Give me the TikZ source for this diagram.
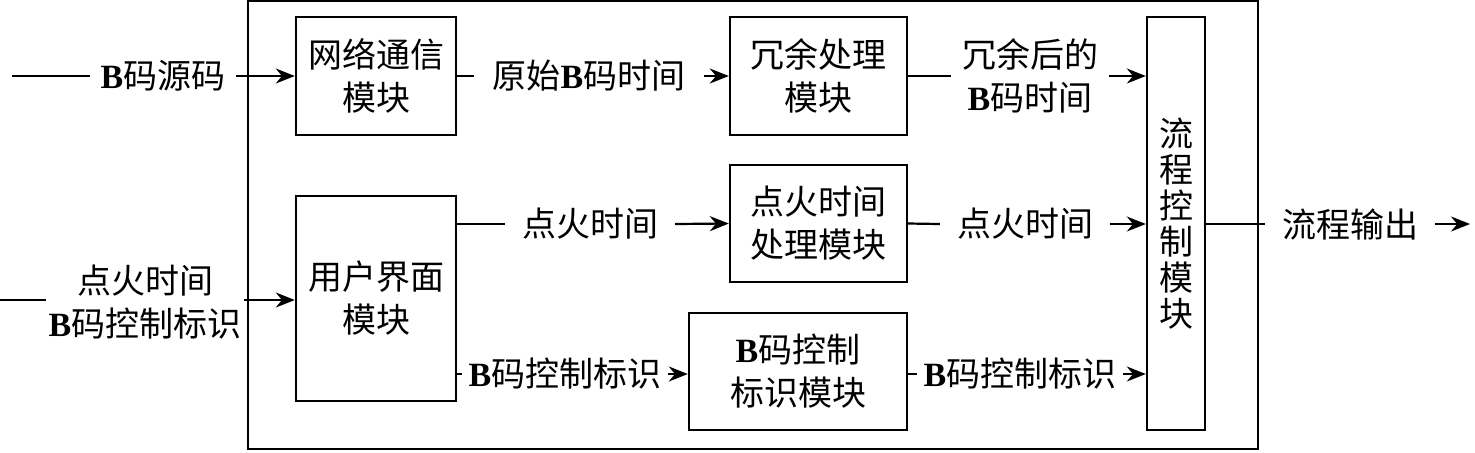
\documentclass[tikz,border=0pt]{standalone}
\usepackage{fontspec}
\setmainfont{Liberation Serif}
\newfontfamily\cjk{Noto Sans CJK SC}
\usetikzlibrary{arrows.meta}
\newcommand{\Bm}{{\rmfamily\bfseries B}}
\begin{document}
\begin{tikzpicture}[x=0.5pt, y=-0.5pt, line width=1.1pt, >={Stealth[length=9.5pt,width=7.5pt]},
	font=\cjk\fontsize{17}{21.5}\selectfont,
	box/.style={draw, line width=1.2pt, inner sep=0pt, align=center},
	lbl/.style={inner xsep=5pt, inner ysep=0pt, align=center}]
	\useasboundingbox (0,0) rectangle (1475,452);
	\draw[line width=1.2pt] (248,1) rectangle (1258,449);
	% modules
	\node[box, minimum width=80pt, minimum height=59pt] (net) at (376,76) {网络通信\\模块};
	\node[box, minimum width=88.5pt, minimum height=59pt] (red) at (818.5,76) {冗余处理\\模块};
	\node[box, minimum width=88.5pt, minimum height=58.5pt] (ign) at (818.5,223.5) {点火时间\\处理模块};
	\node[box, minimum width=80pt, minimum height=102.5pt] (ui) at (376,298.5) {用户界面\\模块};
	\node[box, minimum width=109pt, minimum height=58.5pt] (bc) at (798,371.5) {\Bm 码控制\\标识模块};
	\node[box, minimum width=29pt, minimum height=206.5pt, font=\cjk\fontsize{17}{18}\selectfont] (flow) at (1176,223.5) {流\\程\\控\\制\\模\\块};
	% labels
	\coordinate (in1) at (12,76);
	\coordinate (in2) at (0,300);
	\coordinate (out) at (1470,224);
	\node[lbl] (src) at (163,76) {\Bm 码源码};
	\node[lbl, inner xsep=9pt] (raw) at (589,76) {原始\Bm 码时间};
	\node[lbl] (rdt) at (1030,76) {冗余后的\\\Bm 码时间};
	\node[lbl, inner xsep=8pt] (it1) at (590,224) {点火时间};
	\node[lbl, inner xsep=8pt] (it2) at (1025,224) {点火时间};
	\node[lbl, inner xsep=1pt] (inp) at (145,302) {点火时间\\\Bm 码控制标识};
	\node[lbl, inner xsep=3pt] (bf1) at (565,374) {\Bm 码控制标识};
	\node[lbl, inner xsep=3pt] (bf2) at (1020,374) {\Bm 码控制标识};
	\node[lbl, inner xsep=8pt] (po) at (1350,224) {流程输出};
	% connectors
	\draw (in1) -- (src.west);
	\draw[->] (src.east) -- (net.west);
	\draw (net.east) -- (raw.west);
	\draw[->] (raw.east) -- (red.west);
	\draw (red.east) -- (rdt.west);
	\draw[->] (rdt.east) -- (rdt.east -| flow.west);
	\draw (in2) -- (inp.west |- in2);
	\draw[->] (inp.east |- in2) -- (ui.west |- in2);
	\draw (ui.east |- it1) -- (it1.west);
	\draw[->] (it1.east) -- (ign.west);
	\draw (ign.east) -- (it2.west);
	\draw[->] (it2.east) -- (it2.east -| flow.west);
	\draw (ui.east |- bf1) -- (bf1.west);
	\draw[->] (bf1.east) -- (bc.west |- bf1);
	\draw (bc.east |- bf2) -- (bf2.west);
	\draw[->] (bf2.east) -- (bf2.east -| flow.west);
	\draw (flow.east |- po) -- (po.west);
	\draw[->] (po.east) -- (out);
\end{tikzpicture}
\end{document}
